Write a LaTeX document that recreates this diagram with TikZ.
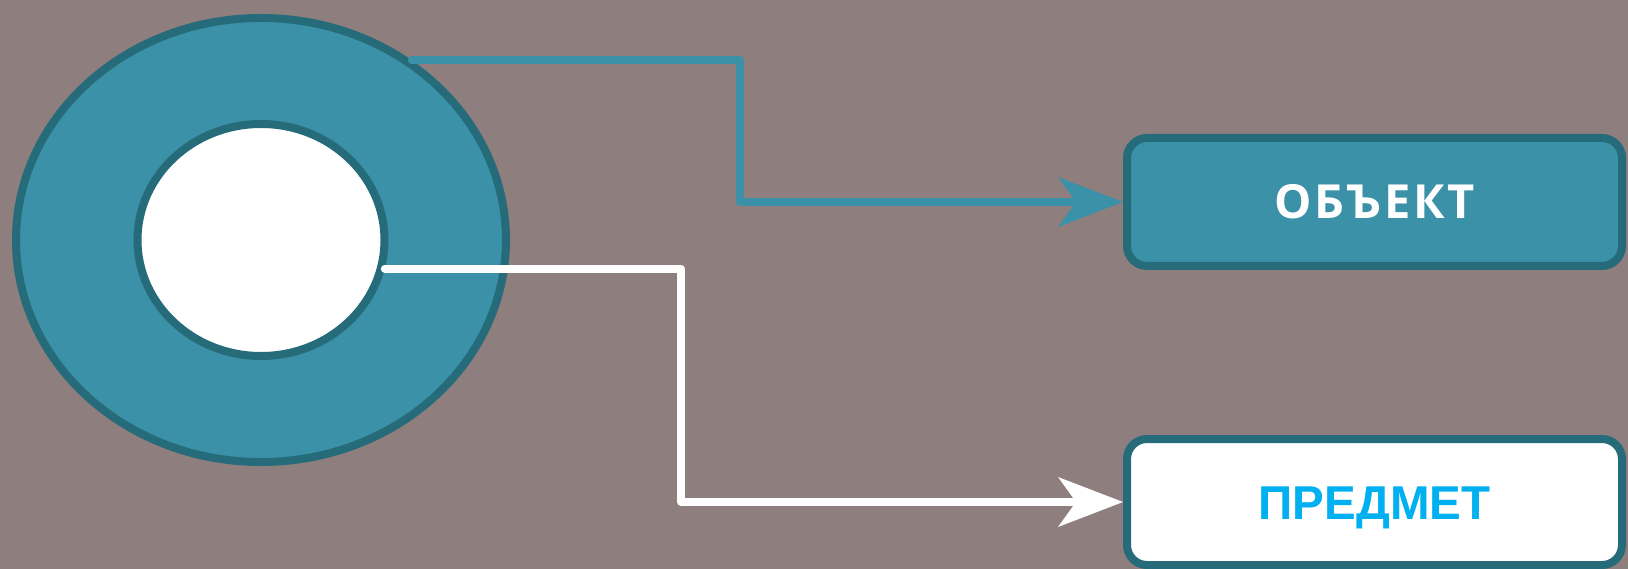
\documentclass[tikz,border=0pt]{standalone}
\usepackage{fontspec}
\setmainfont{Liberation Sans}
\newfontfamily\objfont{Open Sans Bold}[LetterSpace=6]
\newfontfamily\predfont{Liberation Sans Bold}
\usetikzlibrary{shapes.geometric,arrows.meta}
\definecolor{bgc}{HTML}{8E7F7E}
\definecolor{tealf}{HTML}{3A91A8}
\definecolor{teald}{HTML}{266B7A}
\definecolor{cyantext}{HTML}{00B0F0}
\tikzset{
  ring/.style={ellipse, draw=teald, line width=8pt, inner sep=0pt},
  labelbox/.style={rectangle, rounded corners=20pt, draw=teald, line width=8pt,
    minimum width=495pt, minimum height=128pt, inner sep=0pt, text depth=0pt},
  conn/.style={line width=8pt, line cap=round, line join=round,
    -{Stealth[length=65pt, width=50pt, inset=18pt, line width=0pt]}},
}
\begin{document}
\begin{tikzpicture}[x=1pt,y=-1pt]
  \fill[bgc] (0,0) rectangle (1628,569);
  \useasboundingbox (0,0) rectangle (1628,569);
  \node[ring, fill=tealf, minimum width=490pt, minimum height=444pt] (outer) at (261,240) {};
  \node[ring, fill=white, minimum width=247pt, minimum height=232pt] (inner) at (261,240) {};
  \node[labelbox, fill=tealf, text=white, text height=33pt,
        font=\objfont\fontsize{47}{56}\selectfont] (obj) at (1374.5,202) {ОБЪЕКТ};
  \node[labelbox, fill=white, text=cyantext, minimum height=126pt, text height=35pt,
        font=\predfont\fontsize{47.5}{56}\selectfont] (subj) at (1374.5,502) {ПРЕДМЕТ};
  \coordinate (c1) at (740,202);
  \coordinate (c2) at (681,502);
  \draw[conn, draw=tealf] (outer.50.2) -| (c1) -- (obj.west);
  \draw[conn, draw=white] (inner.-13.7) -| (c2) -- (subj.west);
\end{tikzpicture}
\end{document}
